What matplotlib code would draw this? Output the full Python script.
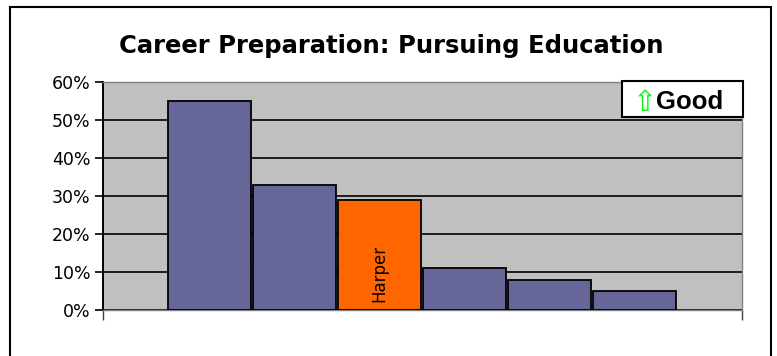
import numpy as np, matplotlib
matplotlib.use("Agg"); import matplotlib.pyplot as plt
from matplotlib.patches import Rectangle
from matplotlib.ticker import PercentFormatter

# valores (fraccion de estudiantes)
labels=["","","Harper","","",""]
values=[0.55,0.33,0.29,0.11,0.08,0.05]
highlight="Harper"
yticks=[0,0.1,0.2,0.3,0.4,0.5,0.6]

PURPLE="#666699"; ORANGE="#FF6600"; BG="#C0C0C0"

fig=plt.figure(figsize=(7.77,3.56),dpi=100)
ax=fig.add_axes([103/777,1-310/356,639/777,228/356])
ax.set_facecolor(BG)

x=np.arange(len(values))
cols=[ORANGE if l==highlight else PURPLE for l in labels]
ax.bar(x,values,width=0.98,color=cols,edgecolor="black",linewidth=1.3,zorder=3)
for xi,l,v in zip(x,labels,values):
    if l:
        ax.text(xi,0.02,l,rotation=90,ha="center",va="bottom",fontsize=12,
                family="DejaVu Sans",zorder=4)

ax.set_ylim(0,0.6); ax.set_yticks(yticks)
ax.yaxis.set_major_formatter(PercentFormatter(1.0,decimals=0))
ax.set_xlim(-1.25,6.26)
ax.set_xticks([-1.25,6.26]); ax.set_xticklabels([])
ax.grid(axis="y",color="black",lw=1.2,zorder=1)
ax.tick_params(axis="y",length=6,width=1.2,labelsize=12.5,pad=3)
ax.tick_params(axis="x",length=7,width=1,color="#404040")
for s in ["top","right","bottom"]:
    ax.spines[s].set_color("#808080"); ax.spines[s].set_linewidth(1)
ax.spines["left"].set_color("black"); ax.spines["left"].set_linewidth(1.4)

fig.text(391/777,1-46/356,"Career Preparation: Pursuing Education",ha="center",va="center",
         fontsize=17.5,fontweight="bold")

# borde del grafico
fig.patches.append(Rectangle((10/777,-0.05),761/777,1.05-7/356,transform=fig.transFigure,
                             fill=False,edgecolor="black",lw=1.5))
# cuadro "Good"
fig.patches.append(Rectangle((622/777,1-117/356),121/777,36/356,transform=fig.transFigure,
                             facecolor="white",edgecolor="black",lw=1.5,zorder=5))
fig.text(644/777,1-103/356,"⇧",ha="center",va="center",fontsize=21,color="#00FF00",
         zorder=6)
fig.text(656/777,1-102/356,"Good",ha="left",va="center",fontsize=18.5,fontweight="bold",
         family="Liberation Sans",zorder=6)

fig.savefig("out.png",dpi=100)
